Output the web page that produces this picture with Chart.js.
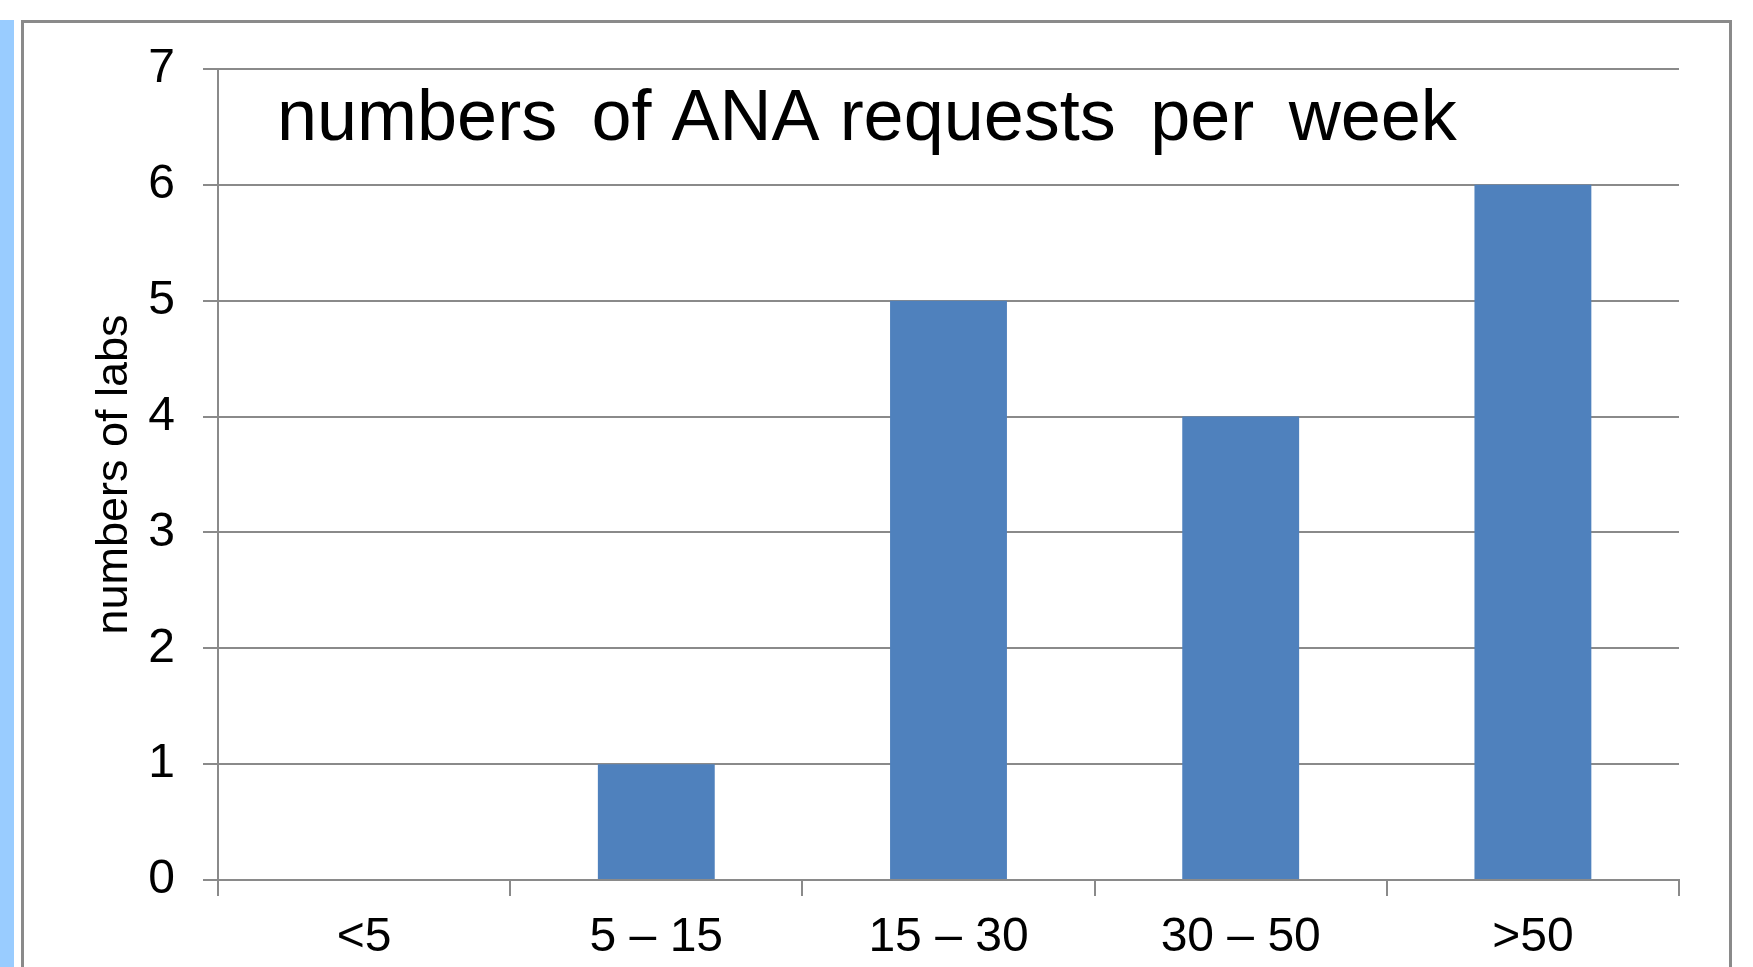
<!DOCTYPE html>
<html>
<head>
<meta charset="utf-8">
<script src="https://cdn.jsdelivr.net/npm/chart.js@4"></script>
<style>
  body { margin: 0; background: #fff; width: 1753px; height: 967px; overflow: hidden; position: relative; }
  #strip { position: absolute; left: 0; top: 20px; width: 14px; height: 947px; background: #99ccff; }
  #frame { position: absolute; left: 21px; top: 20px; width: 1705px; height: 950px; border: 3px solid #8a8a8a; border-bottom: none; }
  #box { position: absolute; left: 24px; top: 23px; width: 1704px; height: 944px; }
</style>
</head>
<body>
<div id="strip"></div>
<div id="frame"></div>
<div id="box"><canvas id="myChart"></canvas></div>
<script>
const categories = ['<5', '5 – 15', '15 – 30', '30 – 50', '>50'];
const labCounts = [0, 1, 5, 4, 6];
const yMax = 7;
// wide gaps in the original title: a space plus a thin space
const chartTitle = 'numbers \u2009of ANA requests \u2009per \u2009week';
const yTitle = 'numbers of labs';

const font = "'Liberation Sans', Arial, sans-serif";
const gray = '#8a8a8a';

// title sits inside the plot, between the 7 and 6 gridlines
const innerTitle = {
    id: 'innerTitle',
    afterDraw(chart) {
        const c = chart.ctx;
        const area = chart.chartArea;
        c.save();
        c.font = '72px ' + font;
        c.fillStyle = '#000';
        c.textBaseline = 'alphabetic';
        c.textAlign = 'left';
        c.fillText(chartTitle, area.left + 59, area.top + 71);
        c.restore();
    }
};

const ctx = document.getElementById('myChart');

new Chart(ctx, {
    type: 'bar',
    data: {
        labels: categories,
        datasets: [{
            data: labCounts,
            backgroundColor: '#4f81bd',
            categoryPercentage: 1,
            barPercentage: 0.4
        }]
    },
    options: {
        responsive: true,
        maintainAspectRatio: false,
        animation: false,
        layout: { padding: { top: 46, right: 49, left: 0, bottom: 0 } },
        plugins: { legend: { display: false }, tooltip: { enabled: false } },
        scales: {
            x: {
                afterFit(scale) { scale.height = 87; },
                grid: { offset: true, drawOnChartArea: false, drawTicks: true, tickLength: 16, color: gray, lineWidth: 2 },
                border: { color: gray, width: 2 },
                ticks: { color: '#000', padding: 13, font: { size: 48, family: font } }
            },
            y: {
                min: 0,
                max: yMax,
                afterFit(scale) {
                    scale.width = 194;
                    scale.paddingTop = 0;
                    scale.paddingBottom = 0;
                },
                grid: { color: gray, lineWidth: 2, tickLength: 15 },
                border: { color: gray, width: 2 },
                ticks: { stepSize: 1, color: '#000', padding: 28, font: { size: 48, family: font } },
                title: {
                    display: true,
                    text: yTitle,
                    color: '#000',
                    padding: { top: 64, bottom: 0 },
                    font: { size: 45, family: font }
                }
            }
        }
    },
    plugins: [innerTitle]
});
</script>
</body>
</html>
